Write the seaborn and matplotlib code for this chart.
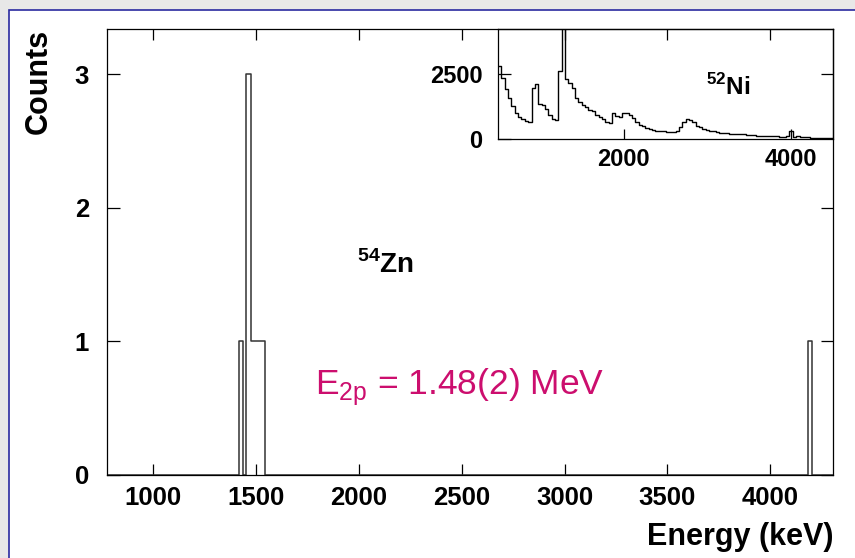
import numpy as np
import pandas as pd
import seaborn as sns
import matplotlib
matplotlib.use('Agg')
import matplotlib.pyplot as plt
from matplotlib.patches import Rectangle

# 54Zn two-proton decay energy spectrum (counts per bin)
zn_edges = [775, 1416, 1437, 1453, 1476, 1542, 4182, 4203, 4305]
zn_counts = [0, 1, 0, 3, 1, 0, 1, 0]

# 52Ni reference spectrum shown in the inset, 40 keV bins from 500 keV
ni_bin_start = 500
ni_bin_width = 40
ni_counts = [
    2800, 2350, 1900, 1550, 1250, 1000, 830, 740, 690, 650,
    1950, 2100, 1350, 1300, 1150, 900, 750, 720, 2600, 4400,
    2300, 2150, 1950, 1550, 1400, 1300, 1200, 1100, 1080, 920,
    820, 760, 650, 590, 1000, 880, 840, 970, 980, 900,
    780, 650, 520, 470, 400, 350, 320, 300, 290, 280,
    270, 260, 255, 300, 450, 650, 770, 700, 620, 500,
    430, 380, 340, 300, 280, 250, 230, 210, 200, 190,
    185, 180, 170, 160, 140, 130, 125, 115, 110, 105,
    100, 95, 90, 80, 70, 60, 80, 300, 70, 80,
    50, 60, 40, 30, 20, 20, 15, 15, 10, 10,
]

main_xticks = [1000, 1500, 2000, 2500, 3000, 3500, 4000]
main_yticks = [0, 1, 2, 3]
inset_xticks = [2000, 4000]
inset_yticks = [0, 2500]

sns.set_theme(style='ticks')
plt.rcParams['font.family'] = ['Liberation Sans', 'DejaVu Sans']
plt.rcParams['axes.linewidth'] = 0.9
plt.rcParams['axes.edgecolor'] = 'black'
plt.rcParams['text.color'] = 'black'
plt.rcParams['axes.labelcolor'] = 'black'

fig = plt.figure(figsize=(8.55, 5.58), dpi=100)
fig.patch.set_facecolor('#e8e8e8')
# white slide panel with blue border
fig.add_artist(Rectangle((9 / 855, -0.05), 1.1, 548 / 558 + 0.05,
                         transform=fig.transFigure, facecolor='white',
                         edgecolor='#2a2aa0', linewidth=1.2, zorder=-10))

ax = fig.add_axes([107 / 855, 83 / 558, 726 / 855, 446 / 558])
ax.set_facecolor('white')

edges = np.array(zn_edges, dtype=float)
zn_df = pd.DataFrame({'energy': (edges[:-1] + edges[1:]) / 2, 'counts': zn_counts})
sns.histplot(data=zn_df, x='energy', weights='counts', bins=list(edges),
             element='step', fill=False, color='#333333', linewidth=1.1, ax=ax)

ax.set_xlim(775, 4305)
ax.set_ylim(0, 3.34)
ax.set_xticks(main_xticks)
ax.set_yticks(main_yticks)
ax.tick_params(axis='both', which='major', direction='in', top=True, right=True,
               width=0.9, color='black', labelcolor='black')
ax.tick_params(axis='x', length=8, pad=8, labelsize=18.5)
ax.tick_params(axis='y', length=9, pad=13, labelsize=18.5)
for lab in ax.get_xticklabels() + ax.get_yticklabels():
    lab.set_fontweight('bold')

ax.set_xlabel('Energy (keV)', fontsize=22, fontweight='bold', loc='right', color='black')
ax.xaxis.set_label_coords(1.0, -0.105)
ax.set_ylabel('Counts', fontsize=22, fontweight='bold', loc='top', color='black')
ax.yaxis.set_label_coords(-0.074, 1.0)

ax.text(2128, 1.51, r'$^{\mathregular{54}}$Zn', fontsize=20, fontweight='bold',
        ha='center', va='baseline', color='black')
ax.text(315, 558 - 395, r'E$_{\mathregular{2p}}$ = 1.48(2) MeV', fontsize=25.5,
        color='#cc0e6e', ha='left', va='baseline', transform=None)

# inset with 52Ni spectrum
ins = fig.add_axes([498 / 855, 419.5 / 558, 335 / 855, 109.5 / 558])
ins.patch.set_alpha(0)
ni_edges = ni_bin_start + ni_bin_width * np.arange(len(ni_counts) + 1)
ni_df = pd.DataFrame({'energy': ni_edges[:-1] + ni_bin_width / 2, 'counts': ni_counts})
sns.histplot(data=ni_df, x='energy', weights='counts', bins=list(ni_edges),
             element='step', fill=False, color='black', linewidth=1.0, ax=ins)
ins.set_xlim(500, 4500)
ins.set_ylim(0, 4230)
ins.set_xticks(inset_xticks)
ins.set_yticks(inset_yticks)
ins.set_xlabel('')
ins.set_ylabel('')
ins.tick_params(axis='both', direction='in', width=0.9, labelsize=17,
                color='black', labelcolor='black')
ins.tick_params(axis='x', length=7.5, pad=7)
ins.tick_params(axis='y', length=9, pad=11)
for lab in ins.get_xticklabels() + ins.get_yticklabels():
    lab.set_fontweight('bold')
ins.text(0.621, 0.397, r'$^{\mathregular{52}}$Ni', transform=ins.transAxes,
         fontsize=17.5, fontweight='bold', ha='left', va='baseline', color='black')

fig.savefig('out.png', dpi=100, facecolor=fig.get_facecolor())
